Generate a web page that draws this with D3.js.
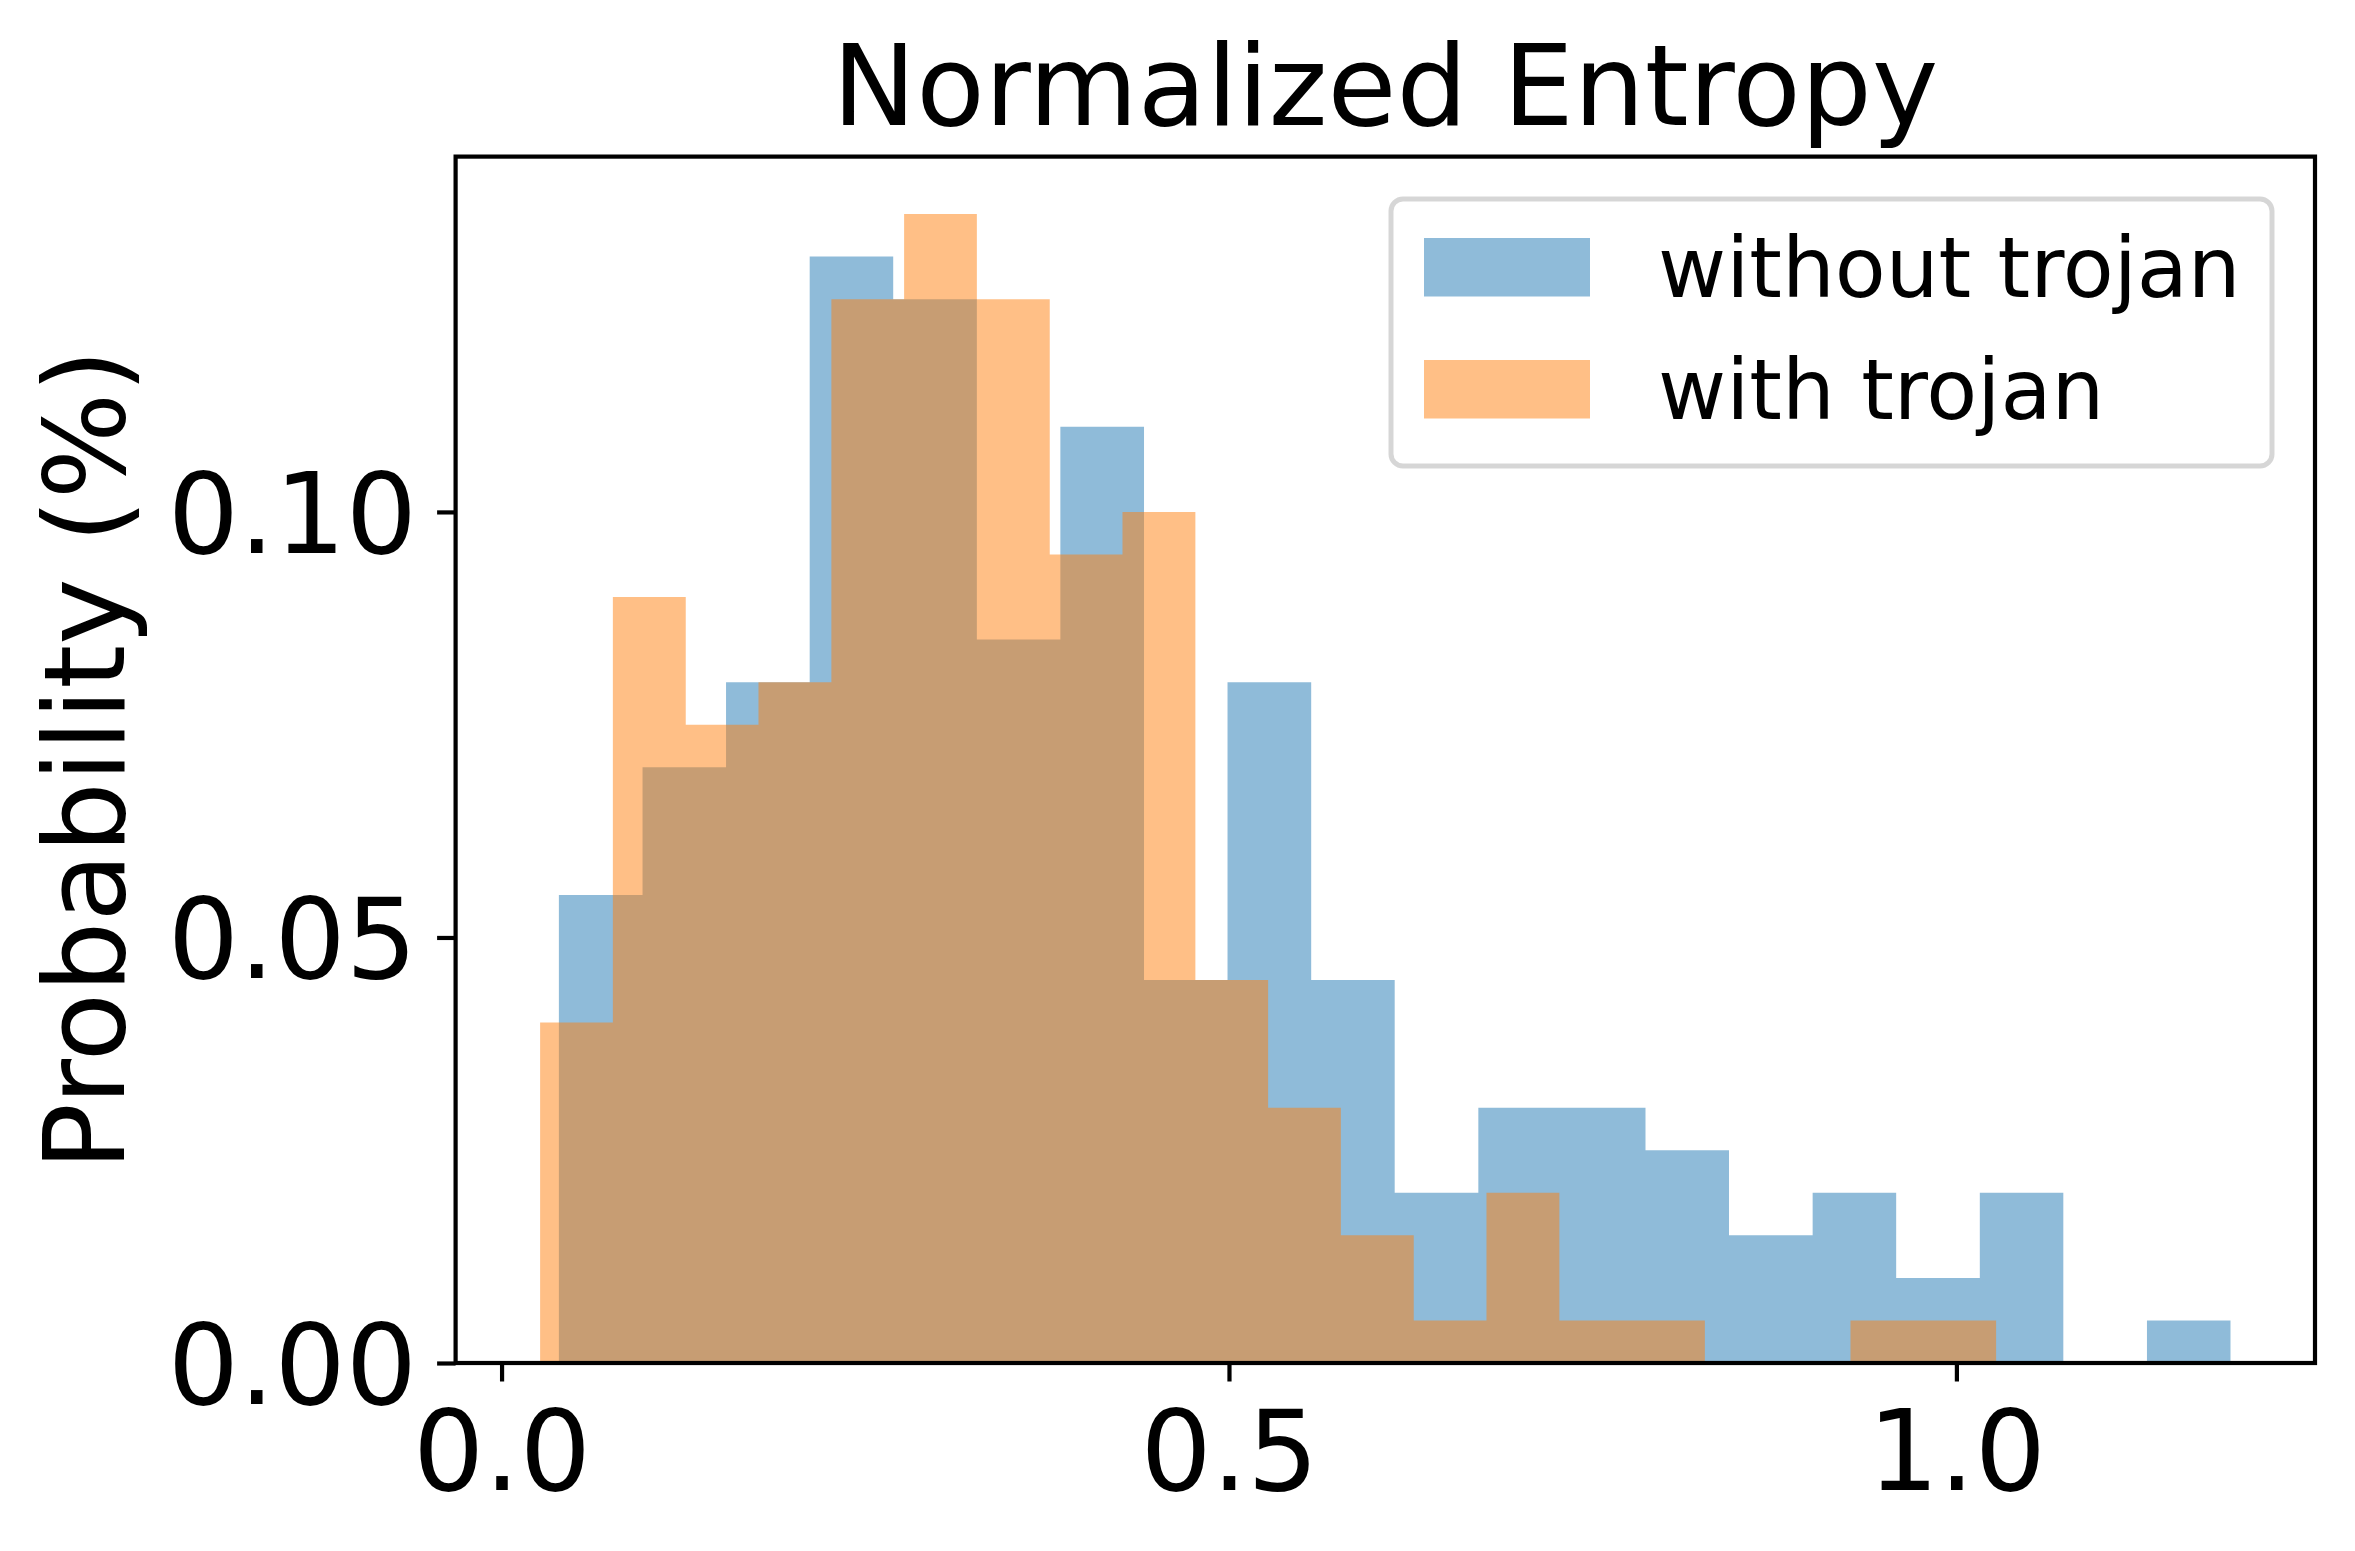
<!DOCTYPE html>
<html>
<head>
<meta charset="utf-8">
<script src="https://cdn.jsdelivr.net/npm/d3@7"></script>
<style>
  body { margin: 0; background: #fff; }
  text { font-family: "DejaVu Sans", sans-serif; fill: #000; }
</style>
</head>
<body>
<svg id="chart" width="2355" height="1551"></svg>
<script>
// histogram bin edges
const edgesWithout = [0.0394, 0.0969, 0.1543, 0.2118, 0.2692, 0.3267, 0.3841,
  0.4416, 0.4990, 0.5565, 0.6139, 0.6714, 0.7288, 0.7863, 0.8437, 0.9012,
  0.9586, 1.0161, 1.0735, 1.1310, 1.1884];
const edgesWith = [0.0265, 0.0765, 0.1266, 0.1766, 0.2267, 0.2767, 0.3267,
  0.3768, 0.4268, 0.4769, 0.5269, 0.5769, 0.6270, 0.6770, 0.7271, 0.7771,
  0.8271, 0.8772, 0.9272, 0.9773, 1.0273];

// probability per bin
const probWithout = [0.055, 0.07, 0.08, 0.13, 0.125, 0.085, 0.11, 0.045, 0.08,
  0.045, 0.02, 0.03, 0.03, 0.025, 0.015, 0.02, 0.01, 0.02, 0, 0.005];
const probWith = [0.04, 0.09, 0.075, 0.08, 0.125, 0.135, 0.125, 0.095, 0.1,
  0.045, 0.03, 0.015, 0.005, 0.02, 0.005, 0.005, 0, 0, 0.005, 0.005];

const seriesNames = ['without trojan', 'with trojan'];
const xTicks = [0.0, 0.5, 1.0];
const yTicks = [0.00, 0.05, 0.10];

const colors = ['#1f77b4', '#ff7f0e'];

const svg = d3.select('#chart');
const plotLeft = 455.6, plotRight = 2315, plotTop = 156.6, plotBottom = 1363;

// x limits with matplotlib-style 5% margins
const xMin = d3.min(edgesWith.concat(edgesWithout));
const xMax = d3.max(edgesWith.concat(edgesWithout));
const xPad = (xMax - xMin) * 0.05;
const yMax = d3.max(probWith.concat(probWithout)) * 1.05;

const x = d3.scaleLinear().domain([xMin - xPad, xMax + xPad]).range([plotLeft, plotRight]);
const y = d3.scaleLinear().domain([0, yMax]).range([plotBottom, plotTop]);

// draw each histogram as one stepped area so adjacent bins have no seams
function steps(edges, probs) {
  const pts = probs.map((p, i) => ({ x0: edges[i], v: p }));
  pts.push({ x0: edges[edges.length - 1], v: probs[probs.length - 1] });
  return pts;
}

const area = d3.area()
  .curve(d3.curveStepAfter)
  .x(d => x(d.x0))
  .y0(y(0))
  .y1(d => y(d.v));

const series = [
  { edges: edgesWithout, probs: probWithout },
  { edges: edgesWith, probs: probWith }
];

svg.append('g')
  .selectAll('path')
  .data(series)
  .enter()
  .append('path')
  .attr('d', d => area(steps(d.edges, d.probs)))
  .attr('fill', (d, i) => colors[i])
  .attr('fill-opacity', 0.5);

// spines
svg.append('rect')
  .attr('x', plotLeft)
  .attr('y', plotTop)
  .attr('width', plotRight - plotLeft)
  .attr('height', plotBottom - plotTop)
  .attr('fill', 'none')
  .attr('stroke', '#000')
  .attr('stroke-width', 4.2);

// x axis
const xAxis = d3.axisBottom(x)
  .tickValues(xTicks)
  .tickFormat(d3.format('.1f'))
  .tickSize(18.5)
  .tickPadding(29);

const gx = svg.append('g')
  .attr('transform', 'translate(0,' + plotBottom + ')')
  .call(xAxis);
gx.select('.domain').remove();
gx.selectAll('line').attr('stroke-width', 4.2);
gx.selectAll('text')
  .attr('font-family', '"DejaVu Sans", sans-serif')
  .attr('font-size', 112)
  .attr('dy', '0.71em');

// y axis
const yAxis = d3.axisLeft(y)
  .tickValues(yTicks)
  .tickFormat(d3.format('.2f'))
  .tickSize(18.5)
  .tickPadding(20);

const gy = svg.append('g')
  .attr('transform', 'translate(' + plotLeft + ',0)')
  .call(yAxis);
gy.select('.domain').remove();
gy.selectAll('line').attr('stroke-width', 4.2);
gy.selectAll('text')
  .attr('font-family', '"DejaVu Sans", sans-serif')
  .attr('font-size', 112)
  .attr('dy', '0.36em');

// title and axis label
svg.append('text')
  .attr('x', (plotLeft + plotRight) / 2)
  .attr('y', 124.5)
  .attr('text-anchor', 'middle')
  .attr('font-size', 112)
  .text('Normalized Entropy');

svg.append('text')
  .attr('transform', 'translate(124,' + (plotTop + plotBottom) / 2 + ') rotate(-90)')
  .attr('text-anchor', 'middle')
  .attr('font-size', 112)
  .text('Probability (%)');

// legend
const legend = svg.append('g');
legend.append('rect')
  .attr('x', 1391)
  .attr('y', 199)
  .attr('width', 881)
  .attr('height', 267)
  .attr('rx', 12)
  .attr('fill', '#fff')
  .attr('fill-opacity', 0.8)
  .attr('stroke', '#cccccc')
  .attr('stroke-opacity', 0.8)
  .attr('stroke-width', 5);

const rowY = [238, 360];
seriesNames.forEach((name, i) => {
  legend.append('rect')
    .attr('x', 1424)
    .attr('y', rowY[i])
    .attr('width', 166)
    .attr('height', 58.5)
    .attr('fill', colors[i])
    .attr('fill-opacity', 0.5);
  legend.append('text')
    .attr('x', 1658)
    .attr('y', rowY[i] + 58.5)
    .attr('font-size', 83.3)
    .text(name);
});
</script>
</body>
</html>
